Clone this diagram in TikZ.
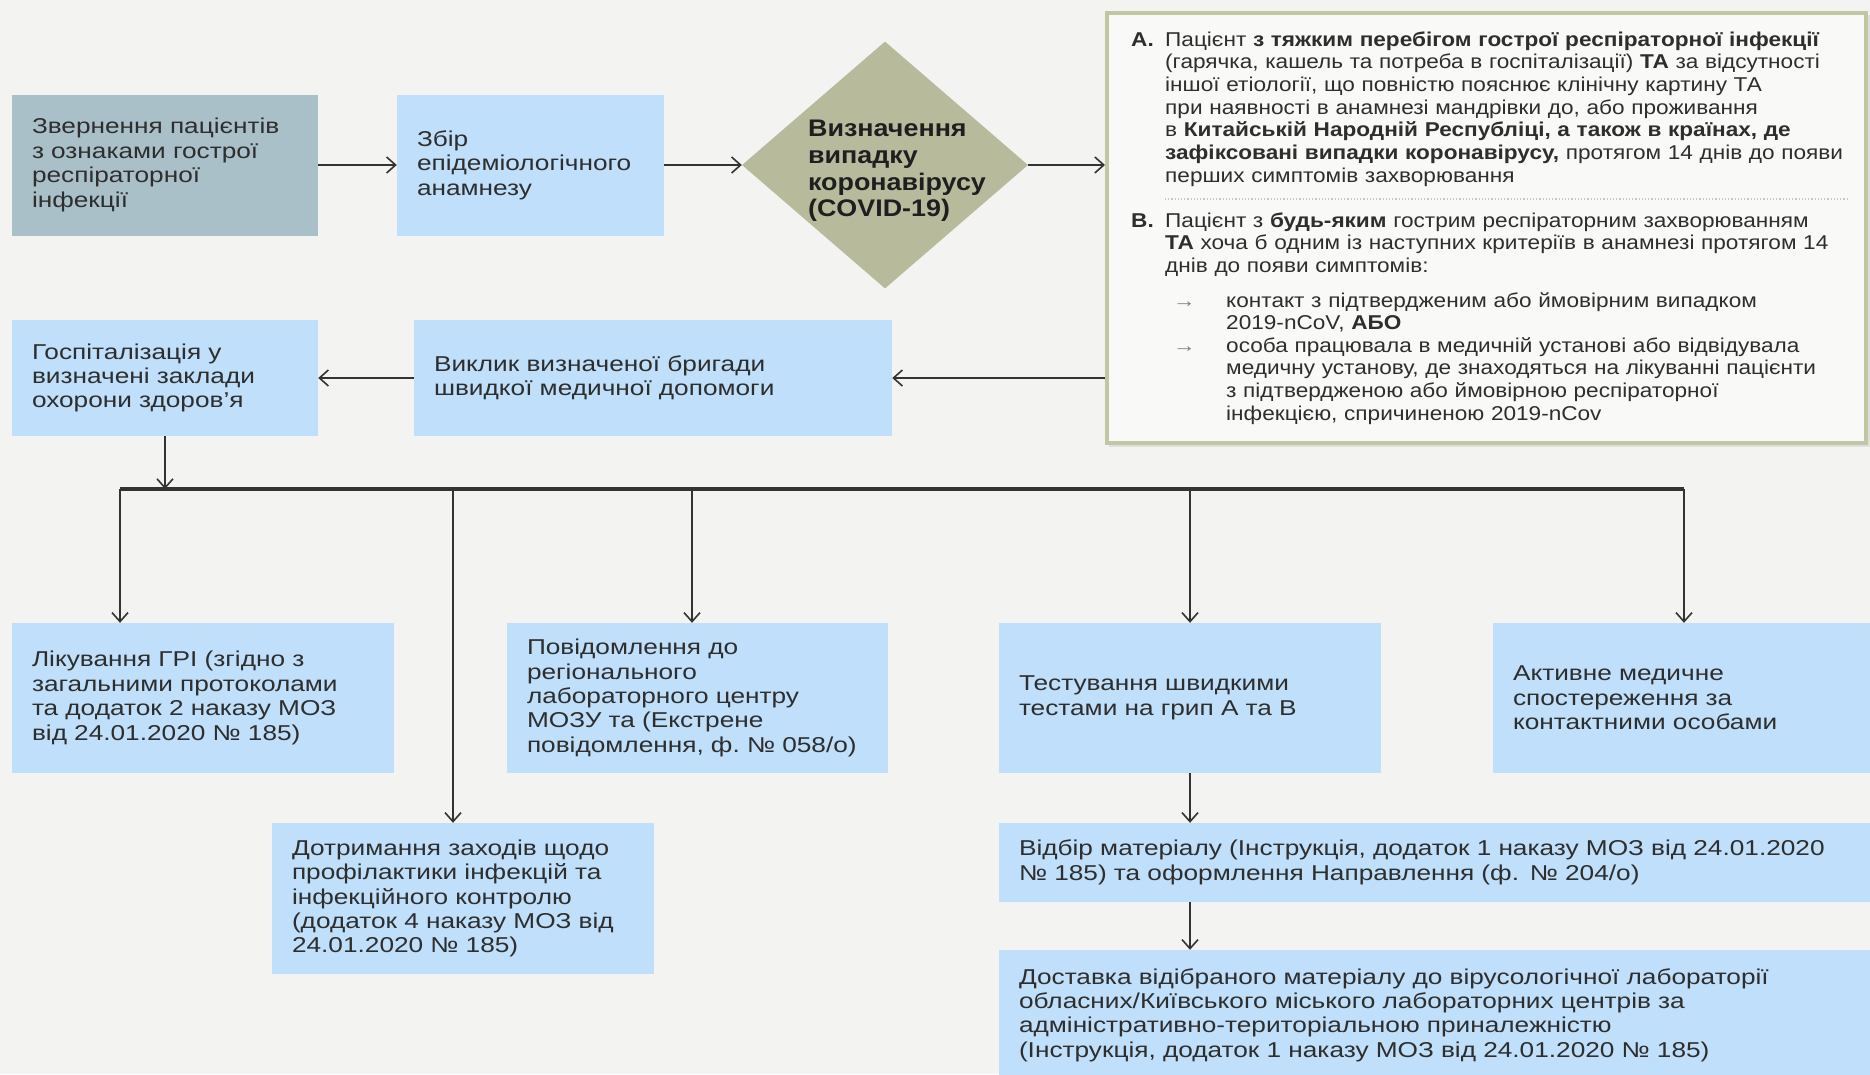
\documentclass[tikz,border=0pt]{standalone}
\usepackage{fontspec}
\setmainfont{Liberation Sans}
\newfontfamily\boxfont[FakeStretch=1.22]{Liberation Sans}
\newfontfamily\critfont[FakeStretch=1.13]{Liberation Sans}
\newfontfamily\diafont[FakeStretch=1.12]{Liberation Sans}
\usetikzlibrary{arrows.meta,shapes.geometric}
\definecolor{bg}{HTML}{F3F3F1}
\definecolor{boxblue}{HTML}{BFDFFA}
\definecolor{boxgrey}{HTML}{A9C0C8}
\definecolor{olivefill}{HTML}{B7BB9C}
\definecolor{critline}{HTML}{C3C6A2}
\definecolor{txt}{HTML}{2E2E2E}
\definecolor{ln}{HTML}{333333}
\begin{document}
\begin{tikzpicture}[x=1pt,y=-1pt,
  arr/.style={draw=ln, line width=1.6pt, -{Straight Barb[length=9pt,width=16pt,line width=1.6pt]}},
  bx/.style={rectangle, fill=boxblue, inner xsep=20pt, inner ysep=0pt, align=left, text=txt,
             font=\boxfont\fontsize{21.5}{24.4}\selectfont},
  ct/.style={inner sep=0pt, align=left, text=txt, anchor=base west,
             font=\critfont\fontsize{20}{22.7}\selectfont},
]
\fill[bg] (0,0) rectangle (1870,1074);
\useasboundingbox (0,0) rectangle (1870,1074);

% top row
\node[bx, fill=boxgrey, minimum width=306pt, minimum height=141pt, text width=266pt] (b1) at (165,165)
  {Звернення пацієнтів\\з ознаками гострої\\респіраторної\\інфекції};
\node[bx, minimum width=267pt, minimum height=141pt, text width=227pt] (b2) at (530.5,165)
  {Збір\\епідеміологічного\\анамнезу};
\node[diamond, fill=olivefill, minimum width=286pt, minimum height=247pt, inner sep=0pt] (dia) at (885,165) {};
\node[inner sep=0pt, align=left, text=black!88, font=\diafont\bfseries\fontsize{24}{26.6}\selectfont] (diat) at (897,171)
  {Визначення\\випадку\\коронавірусу\\(COVID-19)};

% criteria box
\fill[gray!25] (1109,15) rectangle (1870,447);
\node[draw=critline, line width=4pt, fill=white!50!bg, minimum width=759pt, minimum height=430pt, inner sep=0pt] (crit) at (1486.5,228) {};
\node[ct, font=\critfont\bfseries\fontsize{20}{22.7}\selectfont] (la) at (1131,46) {А.};
\node[ct, text width=710pt] (ta) at (1165,46)
  {Пацієнт \textbf{з тяжким перебігом гострої респіраторної інфекції}\\
   (гарячка, кашель та потреба в госпіталізації) \textbf{ТА} за відсутності\\
   іншої етіології, що повністю пояснює клінічну картину ТА\\
   при наявності в анамнезі мандрівки до, або проживання\\
   в \textbf{Китайській Народній Республіці, а також в країнах, де}\\
   \textbf{зафіксовані випадки коронавірусу,} протягом 14 днів до появи\\
   перших симптомів захворювання};
\coordinate (sepL) at (1165,199);
\coordinate (sepR) at (1849,199);
\draw[gray!45, line width=1.2pt, dotted] (sepL) -- (sepR);
\node[ct, font=\critfont\bfseries\fontsize{20}{22.7}\selectfont] (lb) at (1131,227) {В.};
\node[ct, text width=710pt] (tb) at (1165,227)
  {Пацієнт з \textbf{будь-яким} гострим респіраторним захворюванням\\
   \textbf{ТА} хоча б одним із наступних критеріїв в анамнезі протягом 14\\
   днів до появи симптомів:};
\node[ct, text=gray] (a1) at (1173,307) {→};
\node[ct, text width=640pt] (t1) at (1226,307)
  {контакт з підтвердженим або ймовірним випадком\\
   2019-nCoV, \textbf{АБО}};
\node[ct, text=gray] (a2) at (1173,352) {→};
\node[ct, text width=640pt] (t2) at (1226,352)
  {особа працювала в медичній установі або відвідувала\\
   медичну установу, де знаходяться на лікуванні пацієнти\\
   з підтвердженою або ймовірною респіраторної\\
   інфекцією, спричиненою 2019-nCov};

% second row
\node[bx, minimum width=306pt, minimum height=116pt, text width=266pt] (gosp) at (165,378)
  {Госпіталізація у\\визначені заклади\\охорони здоров’я};
\node[bx, minimum width=478pt, minimum height=116pt, text width=438pt] (vyk) at (653,378)
  {Виклик визначеної бригади\\швидкої медичної допомоги};

% third row
\node[bx, minimum width=382pt, minimum height=150pt, text width=342pt] (lik) at (203,698)
  {Лікування ГРІ (згідно з\\загальними протоколами\\та додаток 2 наказу МОЗ\\від 24.01.2020 № 185)};
\node[bx, minimum width=381pt, minimum height=150pt, text width=341pt] (pov) at (697.5,698)
  {Повідомлення до\\регіонального\\лабораторного центру\\МОЗУ та (Екстрене\\повідомлення, ф.~№~058/о)};
\node[bx, minimum width=382pt, minimum height=150pt, text width=342pt] (tst) at (1190,698)
  {Тестування швидкими\\тестами на грип А та В};
\node[bx, minimum width=387pt, minimum height=150pt, text width=347pt] (akt) at (1686.5,698)
  {Активне медичне\\спостереження за\\контактними особами};
\node[bx, minimum width=382pt, minimum height=151pt, text width=342pt] (dot) at (463,898.5)
  {Дотримання заходів щодо\\профілактики інфекцій та\\інфекційного контролю\\(додаток 4 наказу МОЗ від\\24.01.2020 № 185)};
\node[bx, minimum width=881pt, minimum height=79pt, text width=841pt] (vid) at (1439.5,862.5)
  {Відбір матеріалу (Інструкція, додаток 1 наказу МОЗ від 24.01.2020\\№ 185) та оформлення Направлення (ф. № 204/о)};
\node[bx, minimum width=881pt, minimum height=130pt, text width=841pt] (dos) at (1439.5,1015)
  {Доставка відібраного матеріалу до вірусологічної лабораторії\\обласних/Київського міського лабораторних центрів за\\адміністративно-територіальною приналежністю\\(Інструкція, додаток 1 наказу МОЗ від 24.01.2020 № 185)};

% connectors
\draw[arr] (b1.east) -- (b2.west);
\draw[arr] (b2.east) -- (dia.west);
\draw[arr] (dia.east) -- (crit.west |- dia.east);
\draw[arr] (crit.west |- vyk.east) -- (vyk.east);
\draw[arr] (vyk.west) -- (gosp.east);

\coordinate (busL) at (120,489);
\coordinate (busD) at (453,489);
\coordinate (busP) at (692,489);
\coordinate (busT) at (1190,489);
\coordinate (busR) at (1684,489);
\draw[ln, line width=3.2pt] (busL) -- (busR);
\draw[arr] (gosp.south) -- (gosp.south |- busL);
\draw[arr] (busL) -- (busL |- lik.north);
\draw[arr] (busD) -- (busD |- dot.north);
\draw[arr] (busP) -- (busP |- pov.north);
\draw[arr] (busT) -- (busT |- tst.north);
\draw[arr] (busR) -- (busR |- akt.north);
\draw[arr] (tst.south) -- (tst.south |- vid.north);
\draw[arr] (tst.south |- vid.south) -- (tst.south |- dos.north);
\end{tikzpicture}
\end{document}
